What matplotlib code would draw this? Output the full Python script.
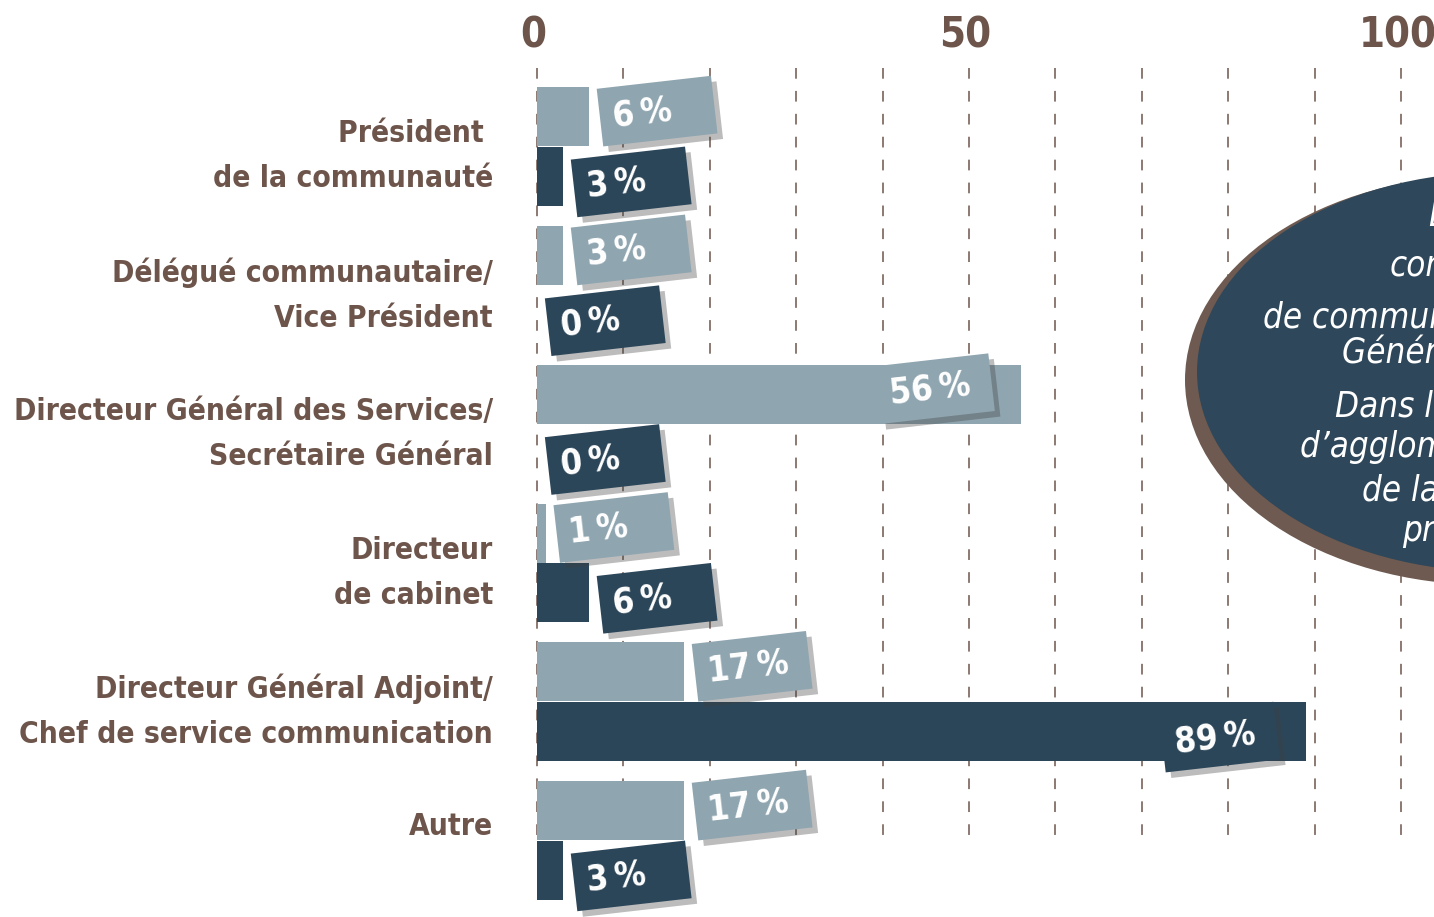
import matplotlib
matplotlib.use("Agg")
import matplotlib.pyplot as plt
import matplotlib.patheffects as pe
from matplotlib.patches import Rectangle, Ellipse
from matplotlib.transforms import Affine2D, ScaledTranslation

# data
categories = [
    "Président \nde la communauté",
    "Délégué communautaire/\nVice Président",
    "Directeur Général des Services/\nSecrétaire Général",
    "Directeur\nde cabinet",
    "Directeur Général Adjoint/\nChef de service communication",
    "Autre",
]
light_values = [6, 3, 56, 1, 17, 17]
dark_values = [3, 0, 0, 6, 89, 3]
tick_values = [0, 50, 100]

note_lines = [
    "Le",
    "communication",
    "de communes : le Directeur",
    "Général des Services.",
    "Dans les communautés",
    "d’agglomération, le chargé",
    "de la communication",
    "prédomine.",
]

LIGHT = "#8fa5b0"
DARK = "#2c4659"
BROWN = "#6d554b"
ANGLE = 6.5

# condensed face, closest to the narrow bold font of the original
plt.rcParams["font.family"] = ["DejaVu Sans"]
plt.rcParams["font.stretch"] = "condensed"

fig = plt.figure(figsize=(14.34, 9.17), dpi=100)
ax = fig.add_axes([0, 0, 1, 1])

# pixel helpers (chart scale: 0 -> x=537px, 100 -> x=1401px, categories every 138.8px)
def px2x(px):
    return (px - 537) / 8.64

def px2y(py):
    return (py - 146.5) / 138.8

ax.set_xlim(px2x(0), px2x(1434))
ax.set_ylim(px2y(917), px2y(0))
ax.axis("off")

# dashed grid
ax.vlines(range(0, 101, 10), px2y(68), px2y(840), colors=BROWN,
          linewidth=1.1, linestyles=(0, (7, 8)), zorder=1)

for t in tick_values:
    ax.text(t - 0.4, px2y(35), str(t), ha="center", va="center", fontsize=30,
            fontweight="bold", color=BROWN)

# the note ellipse on the right
ax.add_patch(Ellipse((px2x(1488), px2y(380)), 606 / 8.64, 410 / 138.8,
                     fc="#6e5a50", ec="none", zorder=2))
ax.add_patch(Ellipse((px2x(1500), px2y(372)), 606 / 8.64, 400 / 138.8,
                     fc="#2e475a", ec="none", zorder=2))
note_x = [1428, 1390, 1263, 1342, 1335, 1300, 1362, 1402]
note_y = [225, 275, 327, 363, 417, 457, 500, 541]
for line, nx, ny in zip(note_lines, note_x, note_y):
    ax.text(px2x(nx), px2y(ny), line, ha="left", va="baseline", fontsize=25,
            style="italic", color="white", zorder=3)

ypos = list(range(len(categories)))
bar_h = 0.425
ax.barh([y - 0.215 for y in ypos], light_values, height=bar_h, left=0,
        color=LIGHT, zorder=2)
ax.barh([y + 0.215 for y in ypos], dark_values, height=bar_h, left=0,
        color=DARK, zorder=2)


def value_box(x, y, label, fc):
    tr = Affine2D().rotate_deg(ANGLE) + fig.dpi_scale_trans + \
        ScaledTranslation(x, y, ax.transData)
    rect = Rectangle((-0.575, -0.29), 1.15, 0.58, transform=tr, fc=fc,
                     ec="none", zorder=4,
                     path_effects=[pe.SimplePatchShadow(offset=(4, -4),
                                                        shadow_rgbFace="0.25",
                                                        alpha=0.35),
                                   pe.Normal()])
    ax.add_patch(rect)
    ax.text(-0.45, 0.0, label, transform=tr, rotation=ANGLE,
            rotation_mode="anchor", ha="left", va="center", fontsize=25,
            fontweight="bold", color="white", zorder=5)


for i in ypos:
    for val, dy, fc in [(light_values[i], -0.255, LIGHT),
                        (dark_values[i], 0.255, DARK)]:
        if val > 40:
            cx = val - 10
        else:
            cx = val + 7.9
        value_box(cx, i + dy, f"{val}\u2009%", fc)

# category labels
for i, cat in enumerate(categories):
    off = 0.07 if "\n" in cat else -0.1
    ax.text(px2x(493), i + off, cat, ha="right", va="center",
            multialignment="right", fontsize=21.5, fontweight="bold",
            color=BROWN, linespacing=1.7)

fig.savefig("out.png", dpi=100)
